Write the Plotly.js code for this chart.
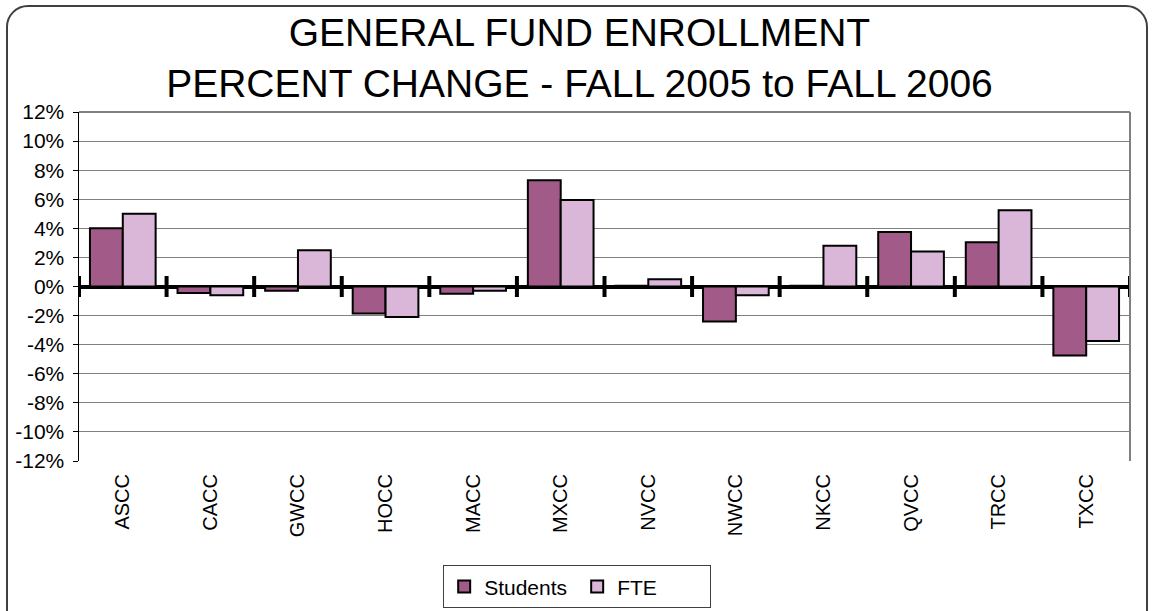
<!DOCTYPE html>
<html>
<head>
<meta charset="utf-8">
<script src="https://cdn.plot.ly/plotly-3.0.1.min.js"></script>
<style>
html,body{margin:0;padding:0;background:#fff;}
#chart{width:1152px;height:611px;}
#frame{position:absolute;left:6px;top:5px;width:1138px;height:630px;border:2px solid #404040;border-radius:22px;pointer-events:none;}
</style>
</head>
<body>
<div id="chart"></div>
<div id="frame"></div>
<script>
const categories = ["ASCC","CACC","GWCC","HOCC","MACC","MXCC","NVCC","NWCC","NKCC","QVCC","TRCC","TXCC"];
const students = [4.0, -0.45, -0.3, -1.85, -0.5, 7.3, 0.05, -2.4, 0.05, 3.75, 3.05, -4.75];
const fte      = [5.0, -0.6, 2.5, -2.1, -0.3, 5.95, 0.5, -0.6, 2.8, 2.4, 5.25, -3.75];
const yTickVals = [-12,-10,-8,-6,-4,-2,0,2,4,6,8,10,12];
const yTickText = ["-12%","-10%","-8%","-6%","-4%","-2%","0%","2%","4%","6%","8%","10%","12%"];

const boundaries = [];
for (let i = 0; i <= categories.length; i++) boundaries.push(i - 0.5);

const traces = [
  {type:'bar', name:'Students', x:categories, y:students,
   marker:{color:'#A25A88', line:{color:'#000', width:2}}},
  {type:'bar', name:'FTE', x:categories, y:fte,
   marker:{color:'#DAB6D9', line:{color:'#000', width:2}}},
  {type:'scatter', mode:'markers', x:boundaries, y:boundaries.map(()=>0),
   xaxis:'x2', showlegend:false, hoverinfo:'skip',
   marker:{symbol:'line-ns', size:15, line:{color:'#000', width:4}}}
];

const layout = {
  width:1152, height:611,
  margin:{l:79, r:22, t:112, b:149.5, autoexpand:false},
  paper_bgcolor:'#fff', plot_bgcolor:'#fff',
  font:{family:'Liberation Sans, Arial, sans-serif', color:'#000'},
  title:{text:'GENERAL FUND ENROLLMENT<br>PERCENT CHANGE - FALL 2005 to FALL 2006',
         x:0.503, xanchor:'center', yref:'container', y:0.925, yanchor:'top',
         font:{size:39, color:'#000'}},
  barmode:'group', bargap:0.25, bargroupgap:0,
  xaxis:{type:'category', tickangle:-90, showgrid:false, zeroline:false, automargin:false,
         ticks:'', showline:false, tickfont:{size:20}, ticklabelstandoff:8},
  xaxis2:{overlaying:'x', range:[-0.5, categories.length-0.5], visible:false},
  yaxis:{range:[-12,12], tickvals:yTickVals, ticktext:yTickText, automargin:false,
         showgrid:true, gridcolor:'#808080', gridwidth:1,
         zeroline:true, zerolinecolor:'#000', zerolinewidth:4,
         showline:true, linecolor:'#000', linewidth:1.5,
         ticks:'outside', ticklen:5, tickcolor:'#000',
         tickfont:{size:21}, ticklabelstandoff:4},
  legend:{orientation:'h', x:0.474, xanchor:'center', y:-0.299, yanchor:'top',
          bordercolor:'#404040', borderwidth:1, font:{size:21},
          itemwidth:30, entrywidth:88, traceorder:'normal'},
  shapes:[
    {type:'line', xref:'paper', yref:'paper', x0:0, x1:1, y0:1, y1:1, line:{color:'#808080', width:2}},
    {type:'line', xref:'paper', yref:'paper', x0:1, x1:1, y0:0, y1:1, line:{color:'#808080', width:2}}
  ],
  showlegend:true
};

Plotly.newPlot('chart', traces, layout, {displayModeBar:false, staticPlot:true});
</script>
</body>
</html>
